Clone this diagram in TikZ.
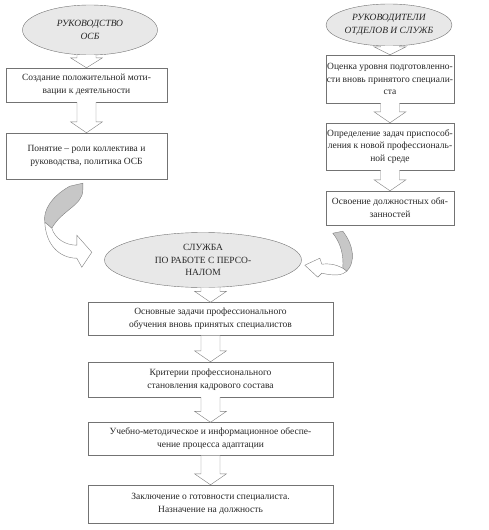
\documentclass[tikz,border=0pt]{standalone}
\usepackage{fontspec}
\setmainfont{Liberation Serif}
\usetikzlibrary{shapes.geometric,calc}

\tikzset{
  box/.style={draw=black!55, fill=white, align=center, inner sep=1pt, text=black!85, font=\fontsize{9.5}{12.8}\selectfont},
  oval/.style={ellipse, draw=black!55, fill=black!9, align=center, inner sep=0pt, text=black!85, font=\fontsize{9.5}{12.8}\selectfont},
  blockarrow/.style={draw=black!50, fill=white, line join=miter},
  curlback/.style={draw=black!50, fill=black!22},
  curlfront/.style={draw=black!50, fill=white},
}
% block arrow from the bottom of #2 to the top of #3, head length #1
\newcommand{\blkarrow}[3][11]{%
  \path[blockarrow] ($(#2.south -| #3.north)+(-9.5,0)$) -- ($(#3.north)+(-9.5,-#1)$) -- ($(#3.north)+(-16,-#1)$) -- (#3.north) -- ($(#3.north)+(16,-#1)$) -- ($(#3.north)+(9.5,-#1)$) -- ($(#2.south -| #3.north)+(9.5,0)$);}

\begin{document}
\begin{tikzpicture}[x=1pt, y=-1pt]
    \useasboundingbox (0,0) rectangle (488,530);
    % left column
    \node[oval, minimum width=135, minimum height=50] (osb) at (90,30) {\itshape РУКОВОДСТВО\\\itshape ОСБ};
    \node[box, minimum width=161, minimum height=34] (motiv) at (86.5,85) {Создание положительной моти-\\вации к деятельности};
    \node[box, minimum width=161, minimum height=46] (role) at (86.5,156) {Понятие -- роли коллектива и\\руководства, политика ОСБ};
    % right column
    \node[oval, minimum width=126, minimum height=42] (heads) at (389,25) {\itshape РУКОВОДИТЕЛИ\\\itshape ОТДЕЛОВ И СЛУЖБ};
    \node[box, minimum width=128, minimum height=48] (level) at (390,79) {Оценка уровня подготовленно-\\сти вновь принятого специали-\\ста};
    \node[box, minimum width=128, minimum height=47] (tasks) at (390,146.5) {Определение задач приспособ-\\ления к новой профессиональ-\\ной среде};
    \node[box, minimum width=128, minimum height=34] (duty) at (390,208) {Освоение должностных обя-\\занностей};
    % centre
    \node[oval, minimum width=197, minimum height=55] (hr) at (203,260) {СЛУЖБА\\ПО РАБОТЕ С ПЕРСО-\\НАЛОМ};
    \node[box, minimum width=245, minimum height=33] (train) at (210.5,319) {Основные задачи профессионального\\обучения вновь принятых специалистов};
    \node[box, minimum width=245, minimum height=35] (crit) at (210.5,379.5) {Критерии профессионального\\становления кадрового состава};
    \node[box, minimum width=245, minimum height=33] (method) at (210.5,439) {Учебно-методическое и информационное обеспе-\\чение процесса адаптации};
    \node[box, minimum width=245, minimum height=38] (final) at (210.5,504) {Заключение о готовности специалиста.\\Назначение на должность};

    % straight block arrows
    \blkarrow[10]{osb}{motiv}
    \blkarrow{motiv}{role}
    \blkarrow[8]{heads}{level}
    \blkarrow{level}{tasks}
    \blkarrow{tasks}{duty}
    \blkarrow{hr}{train}
    \blkarrow{train}{crit}
    \blkarrow{crit}{method}
    \blkarrow{method}{final}

    % curled arrow from the left column
    \begin{scope}[shift={(role.south west)}]
      \draw[curlback] (64,7) .. controls (46,17) and (37,31) .. (39,43) -- (46,49) .. controls (56,31) and (77,26) .. (77,11) -- (77,4) -- cycle;
      \draw[curlfront] (39,43) .. controls (40,66) and (54,79) .. (71,79) -- (76,88) -- (86,73) -- (71,56) -- (71,66) .. controls (59,66) and (49,59) .. (46,49) -- cycle;
    \end{scope}
    % curled arrow from the right column
    \begin{scope}[shift={(duty.south west)}]
      \draw[curlback] (7,8) .. controls (15,18) and (18,30) .. (17,43) -- (21,46) .. controls (30,37) and (28,20) .. (17,6) -- cycle;
      \draw[curlfront] (17,43) .. controls (10,39) and (2,38) .. (-4,39) -- (-6,33) -- (-21,40) -- (-8,52) -- (-4,48) .. controls (9,51) and (17,50) .. (21,46) -- cycle;
    \end{scope}
\end{tikzpicture}
\end{document}
